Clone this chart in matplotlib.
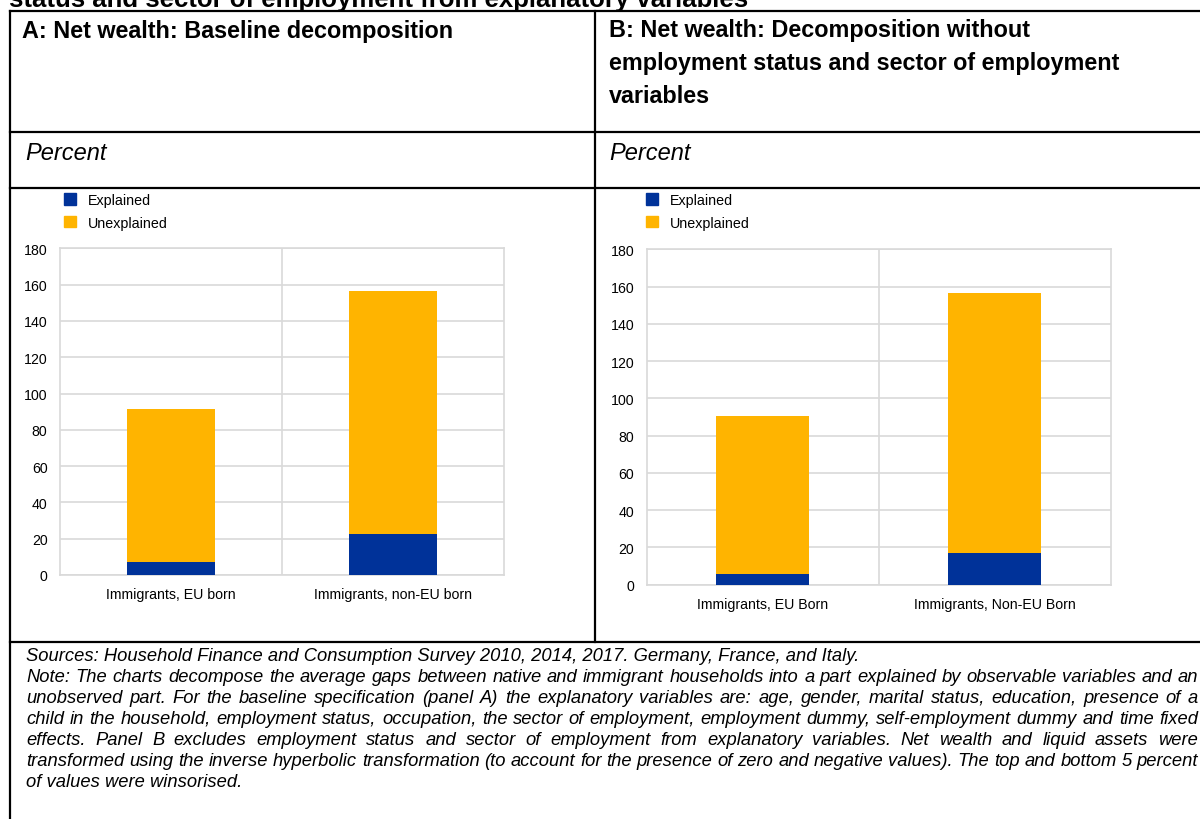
import matplotlib
matplotlib.use("Agg")
import matplotlib.pyplot as plt
from matplotlib.lines import Line2D
from matplotlib.patches import Patch

plt.rcParams['font.family'] = ['Liberation Sans', 'DejaVu Sans']

W, H = 1200, 820

# panel A: baseline decomposition
categories_a = ['Immigrants, EU born', 'Immigrants, non-EU born']
explained_a = [7.3, 22.6]
unexplained_a = [84.2, 133.9]

# panel B: without employment status / sector of employment
categories_b = ['Immigrants, EU Born', 'Immigrants, Non-EU Born']
explained_b = [5.7, 17.2]
unexplained_b = [84.8, 139.4]

yticks = [0, 20, 40, 60, 80, 100, 120, 140, 160, 180]
series_names = ['Explained', 'Unexplained']

top_title = 'status and sector of employment from explanatory variables'
title_a = 'A: Net wealth: Baseline decomposition'
title_b = 'B: Net wealth: Decomposition without\nemployment status and sector of employment\nvariables'
unit_label = 'Percent'

notes = [
    ('Sources: Household Finance and Consumption Survey 2010, 2014, 2017. Germany, France, and Italy.', False),
    ('Note: The charts decompose the average gaps between native and immigrant households into a part explained by observable variables and an', True),
    ('unobserved part. For the baseline specification (panel A) the explanatory variables are: age, gender, marital status, education, presence of a', True),
    ('child in the household, employment status, occupation, the sector of employment, employment dummy, self-employment dummy and time fixed', True),
    ('effects. Panel B excludes employment status and sector of employment from explanatory variables. Net wealth and liquid assets were', True),
    ('transformed using the inverse hyperbolic transformation (to account for the presence of zero and negative values). The top and bottom 5 percent', True),
    ('of values were winsorised.', False),
]

BLUE = '#003299'
YELLOW = '#FFB400'
GRID = '#d9d9d9'


def px(x):
    return x / W


def py(y):
    return 1 - y / H


fig = plt.figure(figsize=(W / 100, H / 100), dpi=100)

# table frame
for y in [12, 133, 189, 643]:
    fig.add_artist(Line2D([px(10), px(1200)], [py(y), py(y)], color='black', lw=1.6))
fig.add_artist(Line2D([px(10), px(10)], [py(12), py(820)], color='black', lw=1.6))
fig.add_artist(Line2D([px(595), px(595)], [py(12), py(643)], color='black', lw=1.6))

fig.text(px(9), py(7), top_title, fontsize=18.5, fontweight='bold', va='baseline')
fig.text(px(22), py(38), title_a, fontsize=16.8, fontweight='bold', va='baseline')
fig.text(px(609), py(19), title_b, fontsize=16.8, fontweight='bold', va='top',
         linespacing=1.55)
fig.text(px(25), py(160), unit_label, fontsize=17, style='italic', va='baseline')
fig.text(px(609), py(160), unit_label, fontsize=17, style='italic', va='baseline')


def draw_panel(rect, cats, expl, unexpl, legend_x, legend_y):
    ax = fig.add_axes(rect)
    x = range(len(cats))
    ax.bar(x, expl, width=0.4, color=BLUE, zorder=3)
    ax.bar(x, unexpl, width=0.4, bottom=expl, color=YELLOW, zorder=3)
    ax.set_xlim(-0.5, len(cats) - 0.5)
    ax.set_ylim(0, 180)
    ax.set_yticks(yticks)
    ax.set_xticks(list(x))
    ax.set_xticklabels(cats)
    ax.set_xticks([i + 0.5 for i in range(len(cats) - 1)], minor=True)
    ax.grid(axis='y', color=GRID, lw=1.2, zorder=0)
    ax.grid(axis='x', which='minor', color=GRID, lw=1.2, zorder=0)
    ax.tick_params(axis='both', which='both', length=0, labelsize=10.2)
    ax.tick_params(axis='y', pad=9)
    ax.tick_params(axis='x', pad=9)
    for s in ax.spines.values():
        s.set_color(GRID)
        s.set_linewidth(1.2)
    handles = [Patch(color=BLUE), Patch(color=YELLOW)]
    fig.legend(handles, series_names, loc='upper left',
               bbox_to_anchor=(px(legend_x), py(legend_y)), frameon=False,
               fontsize=10.3, handlelength=0.85, handleheight=0.85,
               handletextpad=0.8, labelspacing=0.6, borderpad=0, borderaxespad=0)
    return ax


draw_panel([px(60), py(576), px(444), (576 - 249.3) / H],
           categories_a, explained_a, unexplained_a, 64, 194)
draw_panel([px(646.7), py(585.7), px(464), (585.7 - 250.3) / H],
           categories_b, explained_b, unexplained_b, 646, 194)

# justified notes
renderer = fig.canvas.get_renderer()
x0, x1 = 26, 1198
note_size = 13.2
for i, (line, justify) in enumerate(notes):
    y = py(661 + i * 21.0)
    if not justify:
        fig.text(px(x0), y, line, fontsize=note_size, style='italic', va='baseline')
        continue
    words = line.split()
    texts = [fig.text(0, y, w, fontsize=note_size, style='italic', va='baseline') for w in words]
    widths = [t.get_window_extent(renderer).width for t in texts]
    gap = (x1 - x0 - sum(widths)) / (len(words) - 1)
    xc = x0
    for t, w in zip(texts, widths):
        t.set_x(px(xc))
        xc += w + gap

fig.savefig('out.png', dpi=100)
